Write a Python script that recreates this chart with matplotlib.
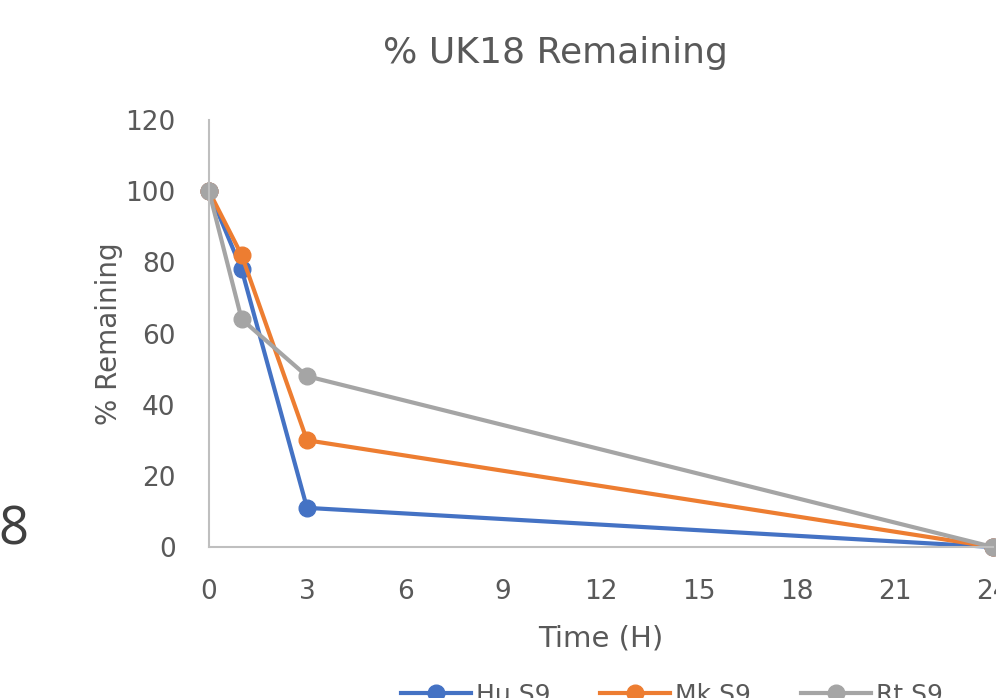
import matplotlib.pyplot as plt
from matplotlib.lines import Line2D

plt.rcParams['font.family'] = ['DejaVu Sans']

# data
time_h = [0, 1, 3, 24]
hu_s9 = [100, 78, 11, 0]
mk_s9 = [100, 82, 30, 0]
rt_s9 = [100, 64, 48, 0]
series_names = ['Hu S9', 'Mk S9', 'Rt S9']
series_colors = ['#4472C4', '#ED7D31', '#A5A5A5']
xticks = [0, 3, 6, 9, 12, 15, 18, 21, 24]
yticks = [0, 20, 40, 60, 80, 100, 120]

txt = '#595959'

fig = plt.figure(figsize=(9.96, 6.98), dpi=100)
ax = fig.add_axes([209/996, 1 - 547/698, 784/996, 427/698])

for vals, name, col in zip([hu_s9, mk_s9, rt_s9], series_names, series_colors):
    ax.plot(time_h, vals, color=col, lw=3, marker='o', ms=12,
            label=name, clip_on=False, solid_joinstyle='round')

ax.set_xlim(0, 24)
ax.set_ylim(0, 120)
ax.set_xticks(xticks)
ax.set_yticks(yticks)
ax.tick_params(length=0, labelsize=19, colors=txt)
ax.tick_params(axis='x', pad=23)
ax.tick_params(axis='y', pad=24)
for s in ['top', 'right']:
    ax.spines[s].set_visible(False)
for s in ['left', 'bottom']:
    ax.spines[s].set_color('#BFBFBF')
    ax.spines[s].set_linewidth(1.5)

ax.set_xlabel('Time (H)', fontsize=21, color=txt, labelpad=14)
ax.set_ylabel('% Remaining', fontsize=20, color=txt, labelpad=2)
fig.text(555/996, 1 - 53/698, '% UK18 Remaining', fontsize=26, color=txt,
         ha='center', va='center')

# fragment of neighbouring chart at left edge
fig.text(-2/996, 1 - 531/698, '8', fontsize=38, color='#404040',
         ha='left', va='center', family='Open Sans')

handles = [Line2D([], [], color=c, lw=3, marker='o', ms=12) for c in series_colors]
fig.legend(handles, series_names, loc='center left',
           bbox_to_anchor=(388/996, 1 - 695/698), ncol=3, frameon=False,
           fontsize=18, handlelength=2.8, columnspacing=2.0,
           handletextpad=0.2, labelcolor=txt, borderpad=0)

fig.savefig('out.png', dpi=100)
